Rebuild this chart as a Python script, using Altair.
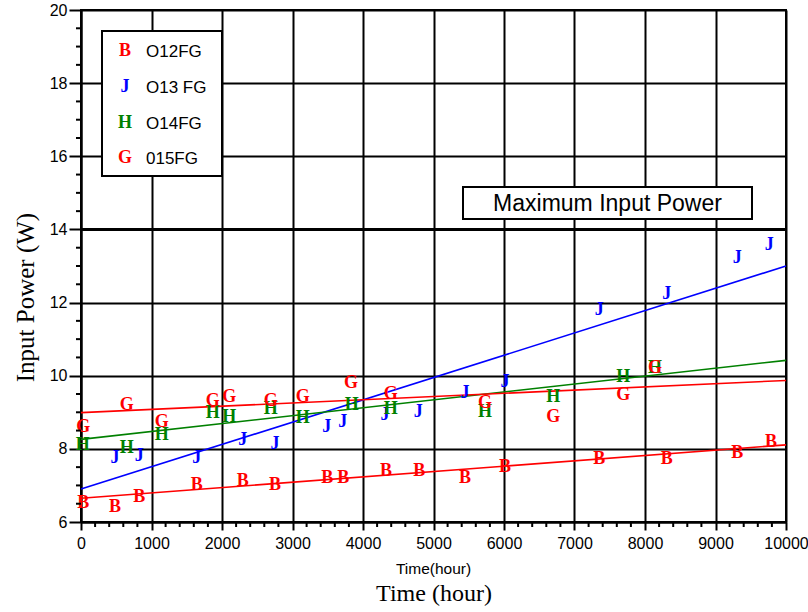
import altair as alt
import pandas as pd

# ---------------- data ----------------
series_names = ["O12FG", "O13 FG", "O14FG", "015FG"]
series_letters = ["B", "J", "H", "G"]
series_colors = ["#ff0000", "#0000ff", "#008000", "#ff0000"]

b_x = [33, 482, 827, 1641, 2294, 2752, 3494, 3721, 4326, 4798, 5447, 6014, 7352, 8308, 9309, 9787]
b_y = [6.51, 6.42, 6.69, 7.01, 7.12, 7.01, 7.19, 7.19, 7.39, 7.39, 7.19, 7.51, 7.72, 7.72, 7.88, 8.20]

j_x = [482, 827, 1641, 2294, 2752, 3485, 3712, 4312, 4784, 5447, 6014, 7352, 8308, 9309, 9763]
j_y = [7.74, 7.80, 7.74, 8.24, 8.13, 8.61, 8.74, 8.93, 9.02, 9.52, 9.84, 11.80, 12.23, 13.21, 13.57]

h_x = [24, 648, 1145, 1868, 2104, 2691, 3145, 3840, 4393, 5730, 6699, 7692, 8142]
h_y = [8.11, 8.02, 8.38, 8.99, 8.88, 9.08, 8.84, 9.20, 9.08, 9.02, 9.43, 9.97, 10.20]

g_x = [33, 648, 1145, 1868, 2104, 2691, 3145, 3830, 4393, 5730, 6699, 7692, 8142]
g_y = [8.61, 9.20, 8.74, 9.32, 9.43, 9.32, 9.43, 9.81, 9.50, 9.26, 8.88, 9.47, 10.20]

fit_x = [0, 10000]
b_fit = [6.65, 8.11]
j_fit = [6.90, 13.00]
h_fit = [8.26, 10.42]
g_fit = [8.99, 9.87]

max_power = [14]
max_label = "Maximum Input Power"

x_ticks = list(range(0, 10001, 1000))
y_ticks = list(range(6, 21, 2))
x_minor = [v for v in range(0, 10001, 200) if v % 1000 != 0]
y_minor = [v / 2 for v in range(12, 41) if v % 4 != 0]

# ---------------- tables ----------------
pts_rows = []
for name, letter, xs, ys in zip(series_names, series_letters, [b_x, j_x, h_x, g_x], [b_y, j_y, h_y, g_y]):
    for xv, yv in zip(xs, ys):
        pts_rows.append({"x": xv, "y": yv, "series": name, "letter": letter})
pts = pd.DataFrame(pts_rows)

fit_rows = []
for name, fy in zip(series_names, [b_fit, j_fit, h_fit, g_fit]):
    for xv, yv in zip(fit_x, fy):
        fit_rows.append({"x": xv, "y": yv, "series": name})
fits = pd.DataFrame(fit_rows)

dummy = pd.DataFrame({"a": [0]})

W, H = 705, 512
SANS = "Liberation Sans"
SERIF = "Liberation Serif"

xscale = alt.Scale(domain=[0, 10000], nice=False)
yscale = alt.Scale(domain=[6, 20], nice=False)
color = alt.Color("series:N", scale=alt.Scale(domain=series_names, range=series_colors), legend=None)

x_axis = alt.Axis(values=x_ticks, format="d", title="Time (hour)", grid=True,
                  gridColor="black", gridWidth=2, gridOpacity=1,
                  domainColor="black", domainWidth=2, tickColor="black", tickWidth=2,
                  tickSize=8, labelPadding=5, labelFont=SANS, labelFontSize=16,
                  labelColor="black", labelFlush=False,
                  titleFont=SERIF, titleFontSize=24, titleFontWeight="normal",
                  titleColor="black", titleY=78, titleBaseline="alphabetic")
y_axis = alt.Axis(values=y_ticks, title="Input Power (W)", grid=True,
                  gridColor="black", gridWidth=2, gridOpacity=1,
                  domainColor="black", domainWidth=2, tickColor="black", tickWidth=2,
                  tickSize=12, labelPadding=2, labelFont=SANS, labelFontSize=16,
                  labelColor="black", labelFlush=False,
                  titleFont=SERIF, titleFontSize=25, titleFontWeight="normal",
                  titleColor="black", titleX=-56, titleY=287, titleAngle=270,
                  titleAlign="center", titleBaseline="middle")

X = alt.X("x:Q", scale=xscale, axis=x_axis)
Y = alt.Y("y:Q", scale=yscale, axis=y_axis)

# fit lines
lines = alt.Chart(fits).mark_line(strokeWidth=1.6).encode(
    x=X, y=Y, color=color, detail="series:N",
)

points = alt.Chart(pts).mark_text(font=SERIF, fontWeight="bold", fontSize=18, baseline="middle").encode(
    x=X, y=Y, text="letter:N", color=color,
)

max_rule = alt.Chart(pd.DataFrame({"y": max_power})).mark_rule(color="black", strokeWidth=3).encode(
    y=Y
)

xminor = alt.Chart(pd.DataFrame({"x": x_minor})).mark_rule(color="black", strokeWidth=2).encode(
    x=X, y=alt.value(H), y2=alt.value(H + 5)
)
yminor = alt.Chart(pd.DataFrame({"y": y_minor})).mark_rule(color="black", strokeWidth=2).encode(
    y=Y, x=alt.value(-5), x2=alt.value(0)
)

# legend box
leg_box = alt.Chart(dummy).mark_rect(fill="white", stroke="black", strokeWidth=2).encode(
    x=alt.value(21), x2=alt.value(141), y=alt.value(21), y2=alt.value(166)
)
leg_y = [41, 76.5, 113, 148]
leg_layers = []
for name, letter, col, ly in zip(series_names, series_letters, series_colors, leg_y):
    leg_layers.append(alt.Chart(dummy).mark_text(font=SERIF, fontWeight="bold", fontSize=18,
                                                 baseline="middle", align="center", color=col).encode(
        x=alt.value(44), y=alt.value(ly), text=alt.value(letter)))
    leg_layers.append(alt.Chart(dummy).mark_text(font=SANS, fontSize=17, baseline="middle",
                                                 align="left", color="black").encode(
        x=alt.value(65), y=alt.value(ly + 1), text=alt.value(name)))

# maximum power box
max_box = alt.Chart(dummy).mark_rect(fill="white", stroke="black", strokeWidth=2).encode(
    x=alt.value(382), x2=alt.value(671), y=alt.value(177), y2=alt.value(209)
)
max_text = alt.Chart(dummy).mark_text(font=SANS, fontSize=23, baseline="middle", align="center",
                                      color="black").encode(
    x=alt.value(526.5), y=alt.value(193.5), text=alt.value(max_label)
)

sub_title = alt.Chart(dummy).mark_text(font=SANS, fontSize=15.5,
                                       baseline="alphabetic", align="center", color="black").encode(
    x=alt.value(W / 2), y=alt.value(564), text=alt.value("Time(hour)")
)

chart = alt.layer(
    lines, max_rule, points, xminor, yminor, leg_box, *leg_layers, max_box, max_text, sub_title
).properties(
    width=W, height=H,
    padding={"left": 81, "top": 10, "right": 22, "bottom": 90},
    autosize=alt.AutoSizeParams(type="none"),
    background="white",
).configure_view(stroke="black", strokeWidth=2)

chart.save("out.html", embed_options={"renderer": "svg", "actions": False})
